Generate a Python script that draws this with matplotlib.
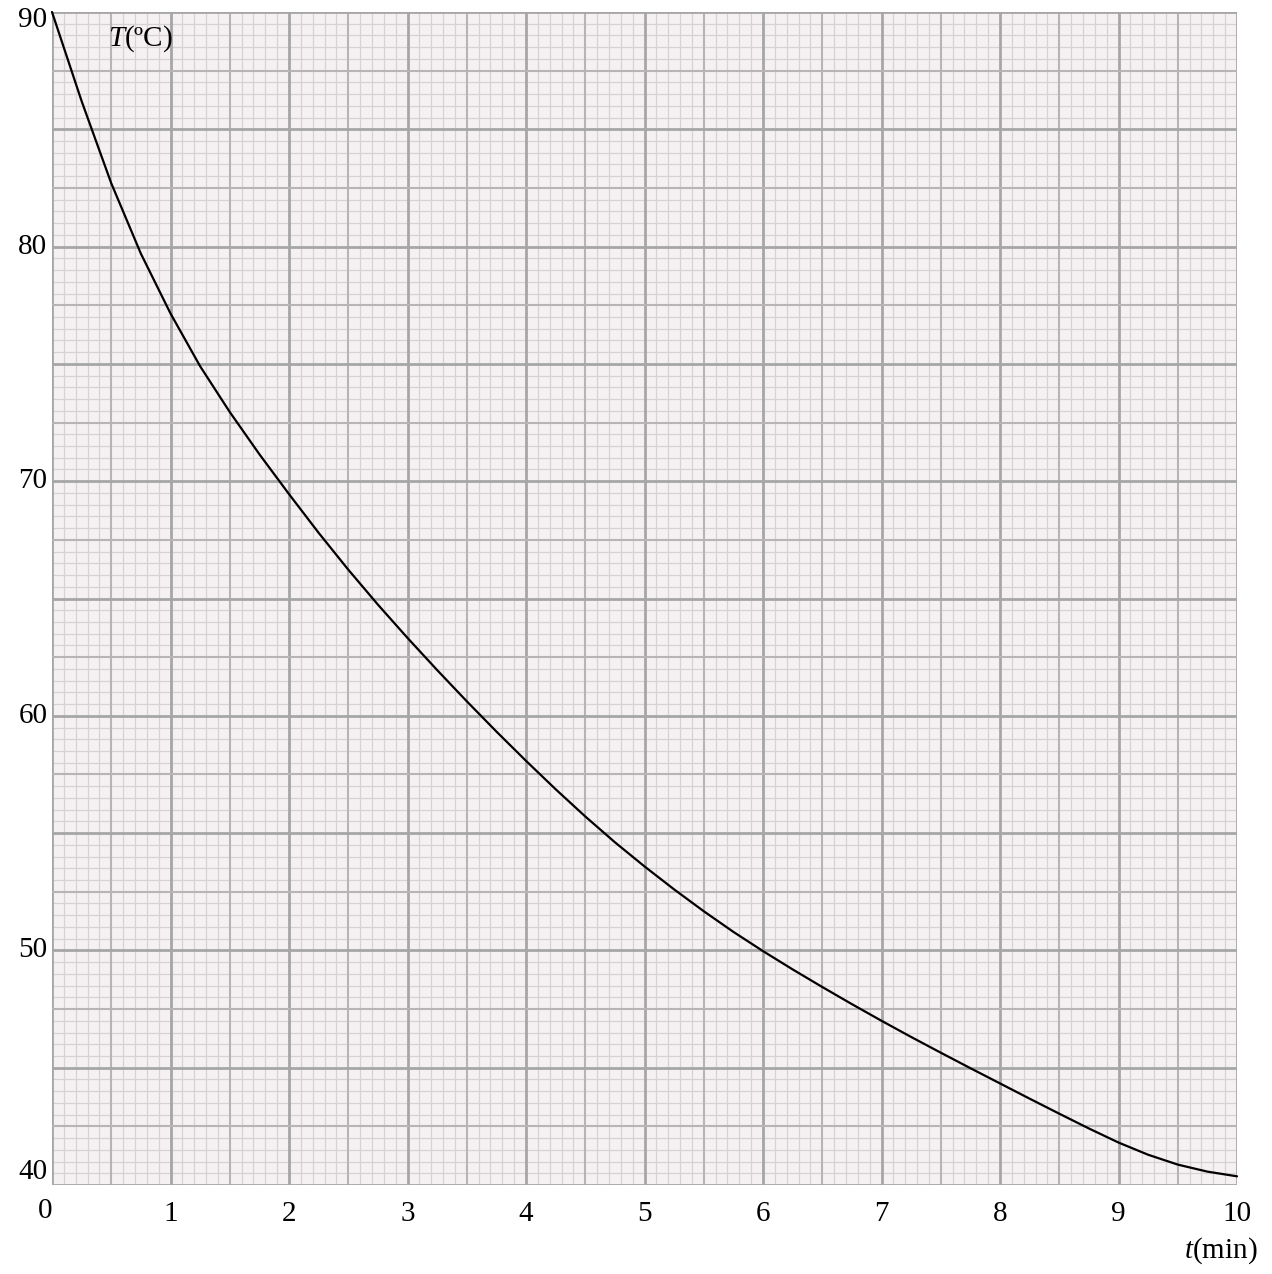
import matplotlib
matplotlib.use("Agg")
import matplotlib.pyplot as plt
import numpy as np

# Data (time in min, temperature in deg C)
t_min = [0.0, 0.25, 0.5, 0.75, 1.0, 1.25, 1.5, 1.75, 2.0, 2.25, 2.5, 2.75, 3.0,
         3.25, 3.5, 3.75, 4.0, 4.25, 4.5, 4.75, 5.0, 5.25, 5.5, 5.75, 6.0,
         6.25, 6.5, 6.75, 7.0, 7.25, 7.5, 7.75, 8.0, 8.25, 8.5, 8.75, 9.0,
         9.25, 9.5, 9.75, 10.0]
T_c = [90.0, 86.2, 82.7, 79.7, 77.15, 74.9, 72.95, 71.15, 69.45, 67.8, 66.23, 64.74, 63.32,
       61.95, 60.62, 59.33, 58.08, 56.87, 55.71, 54.61, 53.58, 52.6, 51.67, 50.79, 49.97,
       49.19, 48.44, 47.71, 47.0, 46.31, 45.64, 44.98, 44.33, 43.68, 43.04, 42.41, 41.81,
       41.29, 40.87, 40.57, 40.37]

x_labels = ["0", "1", "2", "3", "4", "5", "6", "7", "8", "9", "10"]
y_labels = ["40", "50", "60", "70", "80", "90"]

plt.rcParams['font.family'] = ['Liberation Serif', 'DejaVu Serif']
plt.rcParams['mathtext.fontset'] = 'custom'
plt.rcParams['mathtext.it'] = 'Liberation Serif:italic'
plt.rcParams['mathtext.rm'] = 'Liberation Serif'

fig = plt.figure(figsize=(12.72, 12.74), dpi=100)
ax = fig.add_axes([52/1272, 1 - 1185/1274, 1185/1272, 1173/1274])
ax.set_facecolor('#f5f0f2')
ax.set_xlim(0, 10)
ax.set_ylim(40, 90)

# graph-paper grid
for xv in np.arange(0, 10.001, 0.1):
    k = int(round(xv * 10))
    if k % 10 == 0:
        c, lw = '#a6a6a6', 2.0
    elif k % 5 == 0:
        c, lw = '#b6b4b5', 1.5
    else:
        c, lw = '#d6d2d4', 0.9
    ax.axvline(xv, color=c, lw=lw, zorder=1 if k % 5 else 2)
for yv in np.arange(40, 90.001, 0.5):
    k = int(round(yv * 2))
    if k % 10 == 0:
        c, lw = '#a6a6a6', 2.0
    elif k % 5 == 0:
        c, lw = '#b6b4b5', 1.5
    else:
        c, lw = '#d6d2d4', 0.9
    ax.axhline(yv, color=c, lw=lw, zorder=1 if k % 5 else 2)

ax.plot(t_min, T_c, color='black', lw=1.6, zorder=5, solid_capstyle='round',
        solid_joinstyle='round', clip_on=False)

for s in ax.spines.values():
    s.set_visible(False)
ax.set_xticks([])
ax.set_yticks([])

fs = 21
# y labels
for lab in y_labels:
    v = float(lab)
    dy = 0
    if v == 90:
        dy = -0.35
    elif v == 40:
        dy = 0.55
    ax.text(-0.04, v + dy, lab, ha='right', va='center', fontsize=fs, clip_on=False)
# x labels
for lab in x_labels:
    v = float(lab)
    if v == 0:
        ax.text(-0.06, 38.9, lab, ha='center', va='center', fontsize=fs, clip_on=False)
    else:
        ax.text(v, 38.75, lab, ha='center', va='center', fontsize=fs, clip_on=False)

ax.text(0.47, 88.85, r'$T$(ºC)', ha='left', va='center', fontsize=fs, zorder=6)
ax.text(10.17, 37.2, r'$t$(min)', ha='right', va='center', fontsize=fs, clip_on=False)

fig.savefig('out.png', dpi=100, facecolor='white')
